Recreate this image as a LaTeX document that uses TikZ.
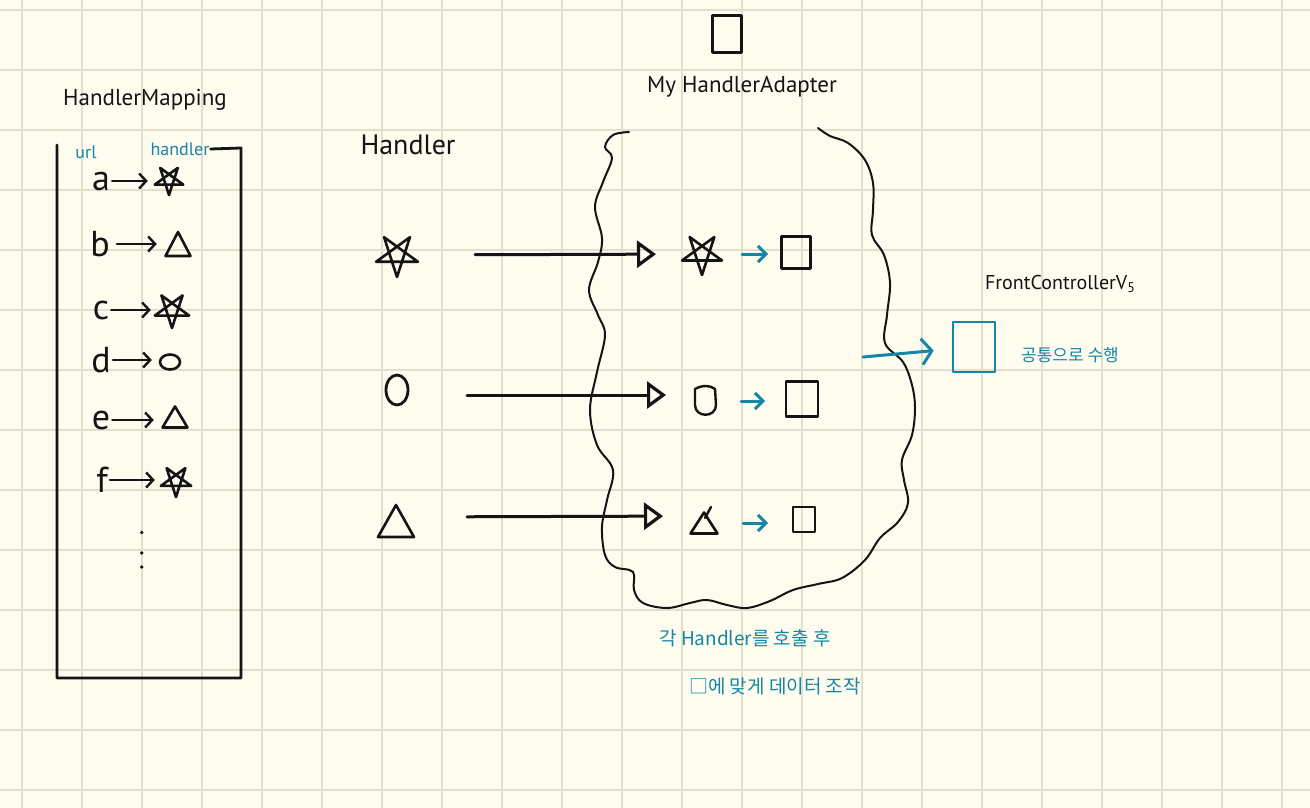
\documentclass[tikz,border=0pt]{standalone}
\usepackage{fontspec}
\setmainfont{PT Sans}
\newfontfamily\krfont{Noto Sans CJK KR}
\usetikzlibrary{positioning,calc,arrows.meta}
\definecolor{paper}{HTML}{FEFCEF}
\definecolor{gridline}{HTML}{E2DFCE}
\definecolor{inkc}{HTML}{141414}
\definecolor{pen}{HTML}{1586A6}

\tikzset{
  ink/.style={draw=inkc, line width=2.8pt, line cap=round, line join=round},
  blueink/.style={ink, draw=pen},
  spot/.style={inner sep=0pt, minimum size=#1},
  spot/.default=30pt,
  sq/.style={ink, rectangle, inner sep=0pt},
  heading/.style={text=inkc, inner sep=1pt, font=\fontsize{23}{27}\selectfont},
  letter/.style={text=inkc, inner sep=2pt, font=\fontsize{36}{38}\selectfont},
  bluetext/.style={text=pen, inner sep=1pt, font=\fontsize{18}{20}\selectfont},
  kortext/.style={text=pen, inner sep=1pt, font=\krfont\fontsize{19}{22}\selectfont},
  smallarrow/.style={ink, line width=2.4pt, -{Straight Barb[length=7pt,width=15pt]}},
  bigarrow/.style={ink, line width=3pt, -{Triangle[open, length=19pt, width=27pt, line width=3.2pt]}},
  bluearrow/.style={blueink, line width=3pt, -{Straight Barb[length=8pt,width=16pt]}},
  pentagram/.pic={\draw[ink, line width=2.6pt] (90:1) -- (234:1) -- (18:1) -- (162:1) -- (306:1) -- cycle;},
  tri/.pic={\draw[ink, line width=2.6pt] (-1,1) -- (1,1) -- (0,-1) -- cycle;},
  shield/.pic={\draw[ink, line width=2.4pt] (-10,-12) .. controls (-3,-16) and (5,-16) .. (10,-12) -- (11,4) .. controls (11,17) and (-10,17) .. (-10,4) -- cycle;}
}

\begin{document}
\begin{tikzpicture}[x=1pt, y=-1pt]
  % paper and grid
  \fill[paper] (0,0) rectangle (1310,808);
  \useasboundingbox (0,0) rectangle (1310,808);
  \foreach \gx in {0,...,21}
    \draw[gridline, line width=2pt] ({21.7+60*\gx},0) -- ++(0,808);
  \foreach \gy in {0,...,13}
    \draw[gridline, line width=2pt] (0,{10+60*\gy}) -- ++(1310,0);

  % HandlerMapping table
  \node[heading] (hmap) at (145,100) {HandlerMapping};
  \node[bluetext] (url) at (86,152) {url};
  \node[bluetext] (hcol) at (180,149) {handler};
  \draw[ink] (hcol.east) -- (241,148) -- (241,678) -- (57,678) -- (57,145);

  \node[letter] (ua) at (101,181) {a};
  \node[spot=30pt] (ha) at (169,180) {};
  \pic[scale=15] at (ha) {pentagram};
  \draw[smallarrow, shorten >=6pt] (ua) -- (ua -| ha.west);

  \node[letter] (ub) at (100,244) {b};
  \node[spot=26pt] (hb) at (178,244) {};
  \pic[xscale=12.5, yscale=12] at (hb) {tri};
  \draw[smallarrow, shorten <=5pt, shorten >=8pt] (ub) -- (ub -| hb.west);

  \node[letter] (uc) at (101,310) {c};
  \node[spot=34pt] (hc) at (172,310) {};
  \pic[scale=18] at (hc) {pentagram};
  \draw[smallarrow, shorten >=4pt] (uc) -- (uc -| hc.west);

  \node[letter] (ud) at (101,360) {d};
  \node[spot=20pt] (hd) at (170,362) {};
  \draw[ink, line width=2.6pt] (hd) ellipse [x radius=10, y radius=7.5];
  \draw[smallarrow, shorten >=8pt] (ud) -- (ud -| hd.west);

  \node[letter] (ue) at (101,420) {e};
  \node[spot=26pt] (he) at (175,417) {};
  \pic[xscale=12.5, yscale=10.5] at (he) {tri};
  \draw[smallarrow, shorten >=8pt] (ue) -- (ue -| he.west);

  \node[letter] (uf) at (102,480) {f};
  \node[spot=32pt] (hf) at (176,481) {};
  \pic[scale=16] at (hf) {pentagram};
  \draw[smallarrow, shorten >=5pt] (uf) -- (uf -| hf.west);

  \foreach \dy in {532.5,553,567}
    \fill[inkc] (141.7,\dy) circle (1.9);

  % Handler column
  \node[heading, font=\fontsize{28}{30}\selectfont] (htitle) at (408,145) {Handler};
  \node[spot=44pt] (hstar) at (397,255) {};
  \pic[scale=22] at (hstar) {pentagram};
  \node[spot=30pt] (hoval) at (397,390) {};
  \draw[ink] (hoval) ellipse [x radius=11, y radius=15];
  \node[spot=36pt] (htri) at (396,521) {};
  \pic[xscale=18, yscale=16] at (htri) {tri};

  % MyHandlerAdapter
  \node[sq, minimum width=29pt, minimum height=37pt] (topbox) at (727,34) {};
  \node[heading] (adapter) at (742,87) {My HandlerAdapter};
  \draw[ink, line width=2pt] plot[smooth, tension=0.6] coordinates {
    (629,132) (613,135) (605,147) (612,158) (603,182) (595,207) (602,238)
    (598,262) (589,290) (598,315) (605,335) (597,372) (590,410) (597,445)
    (613,470) (607,500) (602,527) (605,555) (615,567) (633,572) (634,590)
    (643,603) (667,608) (690,603) (707,600) (727,605) (747,608) (770,601)
    (793,590) (818,584) (842,578) (865,560) (880,538) (898,522) (908,503)
    (904,480) (902,460) (912,435) (915,408) (912,385) (903,362) (885,343)
    (887,315) (890,283) (884,255) (872,235) (873,210) (873,183) (865,160)
    (848,143) (830,136) (818,128)};

  \node[spot=40pt] (astar) at (702,254) {};
  \pic[scale=21] at (astar) {pentagram};
  \node[spot=26pt] (ashield) at (705,401) {};
  \pic at (ashield) {shield};
  \node[spot=28pt] (atri) at (704,523) {};
  \pic[xscale=13.5, yscale=10.5] at (atri) {tri};
  \draw[ink, line width=2.4pt] (705,518) -- (711,507);

  \node[sq, minimum width=29pt, minimum height=32pt] (ares1) at (796,252.5) {};
  \node[sq, minimum width=32pt, minimum height=35pt] (ares2) at (802,399) {};
  \node[sq, minimum width=22pt, minimum height=25pt] (ares3) at (804,519.5) {};

  \draw[bigarrow, shorten <=78pt, shorten >=46pt] (hstar.center) -- (astar.center);
  \draw[bigarrow, shorten <=70pt, shorten >=39pt] ([yshift=-5pt]hoval.center) -- ([yshift=6pt]ashield.center);
  \draw[bigarrow, shorten <=71pt, shorten >=41pt] ([yshift=4pt]htri.center) -- ([yshift=7pt]atri.center);

  \draw[bluearrow, shorten <=40pt, shorten >=28pt] (astar.center) -- (astar.center -| ares1.center);
  \draw[bluearrow, shorten <=36pt, shorten >=37pt] (ashield.center) -- (ashield.center -| ares2.center);
  \draw[bluearrow, shorten <=39pt, shorten >=36pt] (atri.center) -- (atri.center -| ares3.center);

  % FrontControllerV5
  \node[heading, font=\fontsize{20}{24}\selectfont] (fctitle) at (1060,284)
    {FrontControllerV\raisebox{-0.35ex}{\fontsize{14}{14}\selectfont 5}};
  \node[sq, draw=pen, minimum width=42pt, minimum height=50pt] (fcbox) at (974,347) {};
  \coordinate (cloudout) at (863,357);
  \draw[blueink, line width=3pt, shorten >=18pt, -{Straight Barb[length=10pt,width=26pt]}] (cloudout) -- (fcbox);
  \node[kortext, font=\krfont\fontsize{17}{20}\selectfont] (common) at (1070,355) {공통으로 수행};

  % notes below the adapter
  \node[kortext] (note1) at (745,638) {각 Handler를 호출 후};
  \node[kortext] (note2) at (775,686) {□에 맞게 데이터 조작};
\end{tikzpicture}
\end{document}
